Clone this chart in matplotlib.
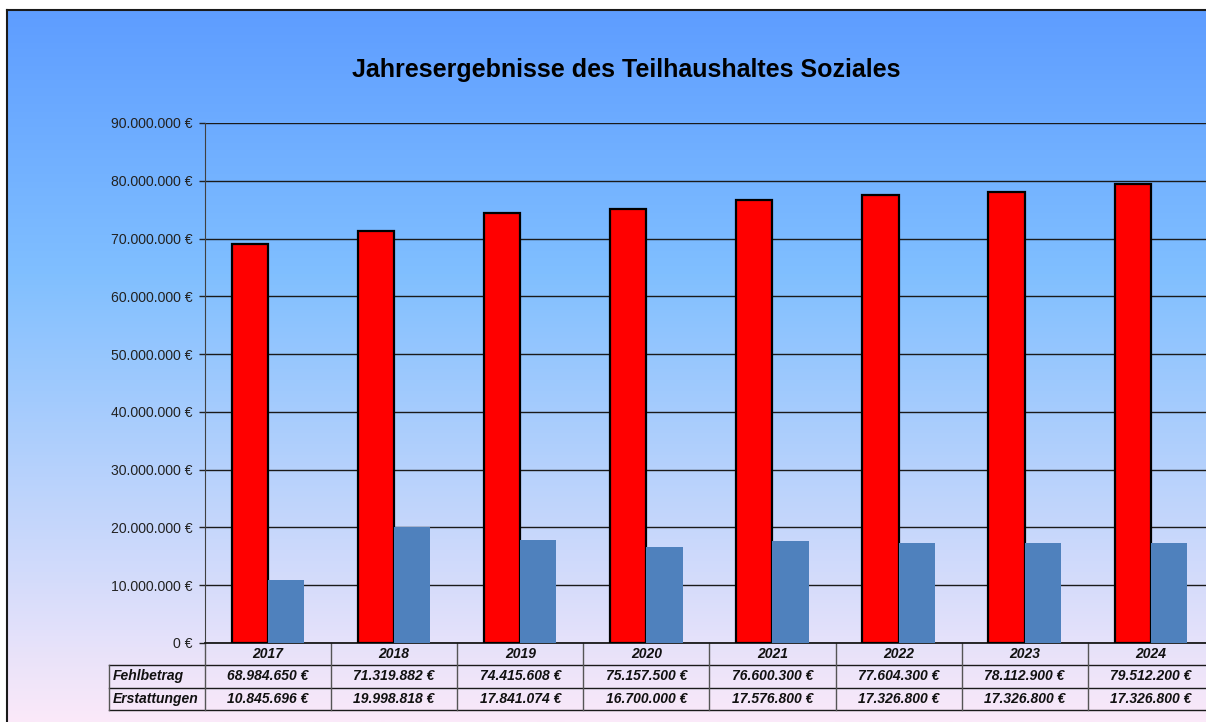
import numpy as np
import matplotlib
matplotlib.use("Agg")
import matplotlib.pyplot as plt
from matplotlib.colors import LinearSegmentedColormap
from matplotlib.ticker import FuncFormatter, MultipleLocator
from matplotlib.lines import Line2D

plt.rcParams['font.family'] = ['Liberation Sans', 'DejaVu Sans']

years = ["2017", "2018", "2019", "2020", "2021", "2022", "2023", "2024"]
fehlbetrag = [68984650, 71319882, 74415608, 75157500, 76600300, 77604300, 78112900, 79512200]
erstattungen = [10845696, 19998818, 17841074, 16700000, 17576800, 17326800, 17326800, 17326800]
row_labels = ["Fehlbetrag", "Erstattungen"]
title = "Jahresergebnisse des Teilhaushaltes Soziales"

W, H = 1206, 722
fig = plt.figure(figsize=(W / 100, H / 100), dpi=100)
fig.patch.set_facecolor("white")

# background frame with gradient
bg = fig.add_axes([7 / W, 0, 1 - 7 / W + 0.01, (H - 10) / H], zorder=0)
cmap = LinearSegmentedColormap.from_list(
    "bg", [(0.0, (94/255, 157/255, 255/255)),
           (0.37, (128/255, 191/255, 255/255)),
           (1.0, (251/255, 233/255, 249/255))])
grad = np.linspace(0, 1, 512).reshape(-1, 1)
bg.imshow(grad, aspect="auto", cmap=cmap, extent=[0, 1, 0, 1], origin="upper")
bg.set_xlim(0, 1); bg.set_ylim(0, 1)
bg.set_xticks([]); bg.set_yticks([])
for s in ["right", "bottom"]:
    bg.spines[s].set_visible(False)
for s in ["top", "left"]:
    bg.spines[s].set_linewidth(1.5)
    bg.spines[s].set_color("#1a1a1a")

# main axes
left, right_px, top, bottom = 205, 205 + 8 * 126.1, 123, 643
ax = fig.add_axes([left / W, (H - bottom) / H, (right_px - left) / W, (bottom - top) / H], zorder=1)
ax.patch.set_alpha(0)

x = np.arange(len(years))
bw = 0.287
ax.bar(x - bw, fehlbetrag, width=bw, align="edge", color="#FF0000",
       edgecolor="black", linewidth=1.6, zorder=3)
ax.bar(x, erstattungen, width=bw, align="edge", color="#4F81BD",
       edgecolor="none", zorder=3)

ax.set_xlim(-0.5, len(years) - 0.5)
ax.set_ylim(0, 90000000)
ax.yaxis.set_major_locator(MultipleLocator(10000000))
ax.yaxis.set_major_formatter(FuncFormatter(
    lambda v, p: (f"{int(v):,}".replace(",", ".") + " €")))
ax.tick_params(axis="y", direction="out", length=4, width=1, pad=5,
               labelsize=10.1, labelcolor="#222222", color="#222222")
ax.set_xticks([])
ax.grid(axis="y", color="#1a1a1a", linewidth=1, zorder=1)
ax.set_axisbelow(True)
for s in ["top", "right"]:
    ax.spines[s].set_visible(False)
ax.spines["left"].set_color("#404040")
ax.spines["bottom"].set_color("#1a1a1a")
ax.spines["bottom"].set_linewidth(1.3)

# data table below axes
ax_h = bottom - top
row_h = 22.3 / ax_h
tr = ax.get_xaxis_transform()
lc = "#555555"
label_left = (109 - left) / (right_px - left) * len(years) - 0.5
for k in range(1, 4):
    yy = -k * row_h
    ax.add_line(Line2D([label_left, len(years) - 0.5], [yy, yy], transform=tr,
                       color="#1a1a1a", lw=1, clip_on=False))
for i in range(len(years) + 1):
    xv = i - 0.5
    ax.add_line(Line2D([xv, xv], [0, -3 * row_h], transform=tr,
                       color=lc, lw=1, clip_on=False))
ax.add_line(Line2D([label_left, label_left], [-row_h, -3 * row_h], transform=tr,
                   color=lc, lw=1, clip_on=False))

tfont = dict(fontsize=10, fontweight="bold", fontstyle="italic", color="#111111")
for i, yr in enumerate(years):
    ax.text(i, -0.5 * row_h, yr, transform=tr, ha="center", va="center", **tfont)
    ax.text(i, -1.5 * row_h, f"{fehlbetrag[i]:,}".replace(",", ".") + " €",
            transform=tr, ha="center", va="center", **tfont)
    ax.text(i, -2.5 * row_h, f"{erstattungen[i]:,}".replace(",", ".") + " €",
            transform=tr, ha="center", va="center", **tfont)
for r, lab in enumerate(row_labels):
    ax.text(label_left + 0.03, -(1.5 + r) * row_h, lab, transform=tr,
            ha="left", va="center", **tfont)

fig.text(626 / W, 1 - 70 / H, title, ha="center", va="center",
         fontsize=18, fontweight="bold", color="black")

fig.savefig("out.png", dpi=100)
